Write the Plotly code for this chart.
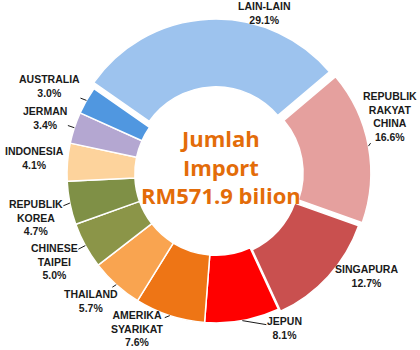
import math
import plotly.graph_objects as go

# ---- data ----
labels = ["LAIN-LAIN", "REPUBLIK<br>RAKYAT<br>CHINA", "SINGAPURA", "JEPUN",
          "AMERIKA<br>SYARIKAT", "THAILAND", "CHINESE<br>TAIPEI", "REPUBLIK<br>KOREA",
          "INDONESIA", "JERMAN", "AUSTRALIA"]
values = [29.1, 16.6, 12.7, 8.1, 7.6, 5.7, 5.0, 4.7, 4.1, 3.4, 3.0]
center_text = "Jumlah<br>Import<br>RM571.9 bilion"

# ---- styling / layout ----
colors = ["#9DC3EE", "#E5A09E", "#C9504F", "#FF0000", "#EE7515", "#F9A450",
          "#8B9548", "#7F9046", "#FDD39C", "#B4A7D1", "#5097E0"]
pulls = [0.04, 0.04, 0.02, 0, 0, 0, 0, 0, 0, 0, 0]
# label text offsets (px) from the outer edge of each slice, and leader visibility
label_dx = [56, 22, 38, 42, -32, -25, -31, -34, -33, -29, -37]
label_dy = [-6, -30, 0, 7, 13, 16, 16, 14, -4, -10, -14]
leader = [False, True, False, True, True, True, True, True, False, True, True]

W, H = 420, 350
rotation = -55
hole = 0.545
dom_x = [0.0643, 0.9643]
dom_y = [0.0602, 0.9456]

fig = go.Figure(go.Pie(
    labels=labels, values=values, sort=False, direction="clockwise",
    rotation=rotation, hole=hole, pull=pulls,
    marker=dict(colors=colors, line=dict(color="white", width=1.5)),
    textinfo="none", hoverinfo="label+percent",
    showlegend=False,
    domain=dict(x=dom_x, y=dom_y),
))

# geometry of the pie as plotly lays it out
cx = W * (dom_x[0] + dom_x[1]) / 2
cy = H * (2 - dom_y[0] - dom_y[1]) / 2
r = min(W * (dom_x[1] - dom_x[0]), H * (dom_y[1] - dom_y[0])) / (2 + 2 * max(pulls))
total = sum(values)
start = rotation
for i, v in enumerate(values):
    span = 360 * v / total
    mid = math.radians(start + span / 2)
    start += span
    rr = r * (1 + pulls[i])
    px = cx + rr * math.sin(mid)
    py = cy - rr * math.cos(mid)
    txt = labels[i] + "<br>" + f"{100 * v / total:.1f}%"
    fig.add_annotation(
        x=px / W, y=1 - py / H, xref="paper", yref="paper",
        text=txt, showarrow=True, ax=label_dx[i], ay=label_dy[i],
        arrowhead=0, arrowwidth=1, standoff=0, startstandoff=0,
        arrowcolor="#1a1a1a" if leader[i] else "rgba(0,0,0,0)",
        font=dict(family="Liberation Sans", size=10.5, color="#1a1a1a", weight="bold"),
        align="center", borderpad=0,
    )

fig.add_annotation(text=center_text, x=221 / W, y=1 - 166 / H, xref="paper", yref="paper",
                   showarrow=False,
                   font=dict(family="Open Sans", size=22, color="#E36C09", weight="bold"))
fig.update_layout(width=W, height=H, margin=dict(l=0, r=0, t=0, b=0),
                  paper_bgcolor="white", plot_bgcolor="white")
fig.write_html("out.html")
